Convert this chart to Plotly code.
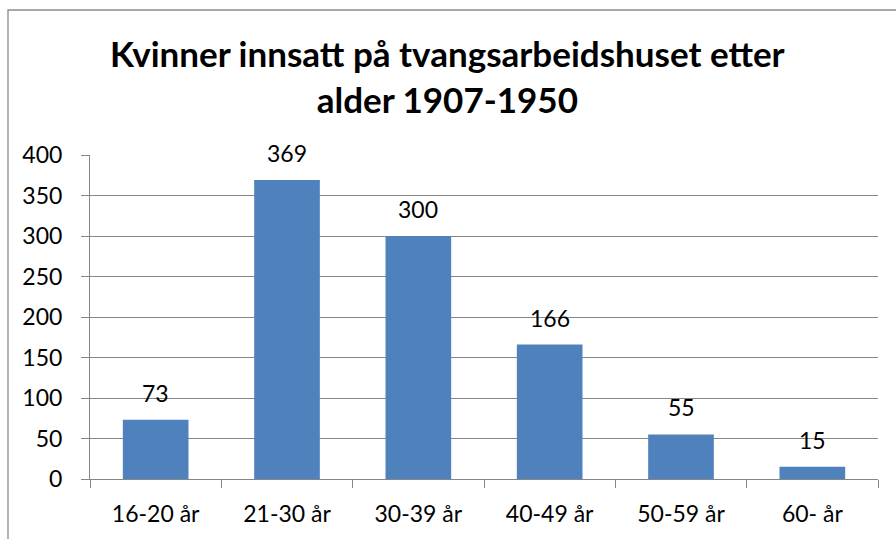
import plotly.graph_objects as go

categories = ["16-20 år", "21-30 år", "30-39 år", "40-49 år", "50-59 år", "60- år"]
values = [73, 369, 300, 166, 55, 15]
y_ticks = [0, 50, 100, 150, 200, 250, 300, 350, 400]
title_text = "Kvinner innsatt på tvangsarbeidshuset etter<br>alder 1907-1950"

FONT = "Lato"
GRID = "#868686"

fig = go.Figure()
fig.add_trace(go.Bar(
    x=categories, y=values,
    marker=dict(color="#4F81BD", line=dict(width=0)),
    width=0.5,
))

for c, v in zip(categories, values):
    fig.add_annotation(x=c, y=v, text=str(v), showarrow=False,
                       yanchor="middle", yshift=27,
                       font=dict(family=FONT, size=23, color="#000000"))

# title as a paper-anchored annotation
fig.add_annotation(xref="paper", yref="paper", x=(447 - 90) / 788, y=(479 - 76) / 324,
                   xanchor="center", yanchor="middle", showarrow=False,
                   text="<b>" + title_text.replace("<br>", "</b><br><b>") + "</b>",
                   font=dict(family=FONT, size=35, color="#000000"))

fig.add_shape(type="rect", xref="paper", yref="paper",
              x0=(8 - 90) / 788, x1=(910 - 90) / 788,
              y0=(479 - 560) / 324, y1=(479 - 10) / 324,
              line=dict(color="#8c8c8c", width=1.3), fillcolor="rgba(0,0,0,0)", layer="below")

fig.update_layout(
    width=896, height=539,
    margin=dict(l=90, r=18, t=155, b=60),
    paper_bgcolor="white", plot_bgcolor="white",
    showlegend=False,
    font=dict(family=FONT, size=23, color="#000000"),
    bargap=0.5,
)
fig.update_xaxes(showline=True, linecolor=GRID, linewidth=1,
                 ticks="outside", tickson="boundaries", ticklen=8, tickcolor=GRID,
                 showgrid=False, ticklabelstandoff=14, tickfont=dict(family=FONT, size=23))
fig.update_yaxes(range=[0, 400], tickvals=y_ticks, showline=True, linecolor=GRID, linewidth=1,
                 ticks="outside", ticklen=8, tickcolor=GRID,
                 showgrid=True, gridcolor=GRID, gridwidth=1, zeroline=False,
                 ticklabelstandoff=14, tickfont=dict(family=FONT, size=23))

fig.write_html("out.html", config={"displayModeBar": False},
               post_script="document.body.style.margin='0';document.body.style.overflow='hidden';")
